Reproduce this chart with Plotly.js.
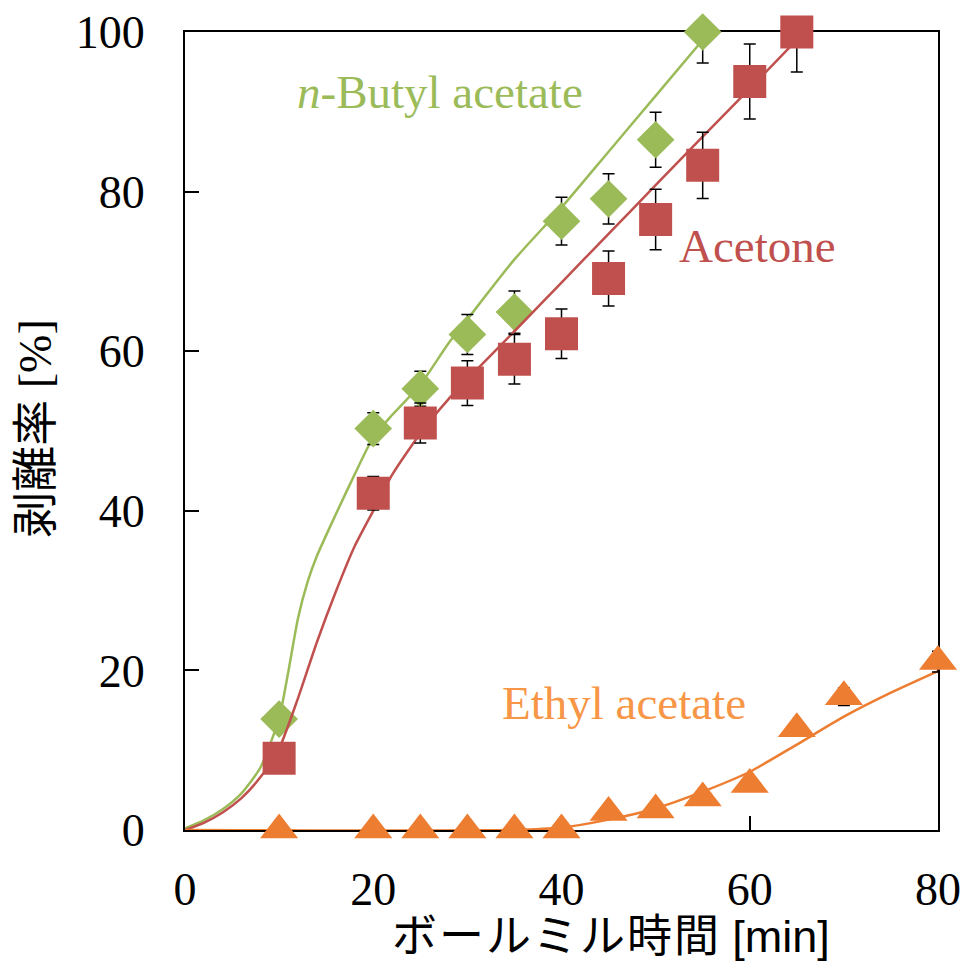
<!DOCTYPE html>
<html><head><meta charset="utf-8">
<script src="https://cdn.plot.ly/plotly-3.0.1.min.js"></script>
<style>html,body{margin:0;padding:0;background:#fff}#chart{width:964px;height:963px}</style>
</head><body><div id="chart"></div>
<script>
// measured data
const butylX = [10, 20, 25, 30, 35, 40, 45, 50, 55];
const butylY = [13.9, 50.3, 55.3, 62.1, 64.9, 76.3, 79.1, 86.5, 100];
const butylErr = [0, 2.0, 2.2, 2.5, 2.65, 3.0, 3.15, 3.45, 3.9];

const acetoneX = [10, 20, 25, 30, 35, 40, 45, 50, 55, 60, 65];
const acetoneY = [9.0, 42.2, 51.0, 56.0, 59.0, 62.2, 69.1, 76.5, 83.3, 93.8, 100];
const acetoneErr = [0, 2.1, 2.5, 2.8, 3.1, 3.1, 3.45, 3.8, 4.15, 4.7, 5.0];

const ethylX = [10, 20, 25, 30, 35, 40, 45, 50, 55, 60, 65, 70, 80];
const ethylY = [0, 0, 0, 0, 0, 0, 2.2, 2.5, 4.0, 5.7, 12.7, 16.7, 21.1];
const ethylErr = [0, 0, 0, 0, 0, 0, 0.3, 0.3, 0.4, 0.5, 0.7, 1.1, 1.3];

// fitted curves
const butylFitX = [0, 2, 4, 6, 8, 10, 11, 12, 13, 14, 16, 18, 20, 22, 25, 28, 30, 35, 40, 45, 50, 55];
const butylFitY = [0.2, 1.2, 2.6, 4.6, 7.8, 14, 20, 26.5, 31, 34.3, 39.5, 44.5, 49.2, 52, 55.8, 61, 64, 71.5, 78, 85, 92, 99];
const acetoneFitX = [0, 2, 4, 6, 8, 10, 12, 14, 16, 18, 20, 22, 25, 28, 30, 35, 40, 45, 50, 55, 60, 65];
const acetoneFitY = [0, 0.9, 2.2, 4, 6.6, 10.2, 16.5, 23.5, 29.8, 35.5, 40, 44.5, 49.7, 54, 56.5, 62.5, 68.6, 74.7, 80.8, 86.9, 92.9, 99];
const ethylFitX = [0, 35, 40, 45, 50, 55, 60, 65, 70, 75, 80];
const ethylFitY = [0, 0, 0.3, 1.3, 2.7, 4.8, 7.3, 10.7, 14.2, 17.2, 19.9];

const xTicks = [0, 20, 40, 60, 80];
const yTicks = [0, 20, 40, 60, 80, 100];

const GREEN = '#9BBB59', RED = '#C0504D', ORANGE = '#ED7D31', ORANGE_TXT = '#F79646';
const SERIF = 'Liberation Serif, Times New Roman, serif';
const CJK = 'Liberation Serif, Noto Sans CJK JP, serif';

function errCfg(arr) {
  return {type: 'data', array: arr, visible: true, color: '#000', thickness: 1.5, width: 6};
}

const traces = [
  {x: butylFitX, y: butylFitY, mode: 'lines', line: {color: GREEN, width: 2.5, shape: 'spline', smoothing: 0.6}, hoverinfo: 'skip'},
  {x: butylX, y: butylY, mode: 'markers', marker: {symbol: 'diamond', size: 29, color: GREEN}, error_y: errCfg(butylErr)},
  {x: acetoneFitX, y: acetoneFitY, mode: 'lines', line: {color: RED, width: 2.5, shape: 'spline', smoothing: 0.6}, hoverinfo: 'skip'},
  {x: acetoneX, y: acetoneY, mode: 'markers', marker: {symbol: 'square', size: 33, color: RED}, error_y: errCfg(acetoneErr)},
  {x: ethylFitX, y: ethylFitY, mode: 'lines', line: {color: ORANGE, width: 2.5, shape: 'spline', smoothing: 0.6}, hoverinfo: 'skip'},
  {x: ethylX, y: ethylY, mode: 'markers', marker: {symbol: 'triangle-up', size: 33, color: ORANGE}, error_y: errCfg(ethylErr)}
].map(t => Object.assign({showlegend: false, cliponaxis: false}, t));

const axisCommon = {
  showline: true, linecolor: '#000', linewidth: 2, mirror: true,
  ticks: 'inside', ticklen: 14, tickwidth: 2, tickcolor: '#000',
  showgrid: false, zeroline: false, layer: 'below traces',
  tickfont: {family: SERIF, size: 46, color: '#000'}
};

const layout = {
  width: 964, height: 963,
  margin: {l: 185, r: 26, t: 32, b: 133},
  paper_bgcolor: '#fff', plot_bgcolor: '#fff',
  xaxis: Object.assign({}, axisCommon, {range: [0, 80], tickvals: xTicks, ticktext: xTicks.map(String), ticklabelstandoff: 18}),
  yaxis: Object.assign({}, axisCommon, {range: [0, 100], tickvals: yTicks, ticktext: yTicks.map(String), ticklabelstandoff: 29}),
  annotations: [
    {xref: 'x', yref: 'y', x: 27.1, y: 92.5, text: '<i>n</i>-Butyl acetate', showarrow: false, xanchor: 'center', yanchor: 'middle', font: {family: SERIF, size: 47, color: GREEN}},
    {xref: 'x', yref: 'y', x: 60.8, y: 73.2, text: 'Acetone', showarrow: false, xanchor: 'center', yanchor: 'middle', font: {family: SERIF, size: 47, color: RED}},
    {xref: 'x', yref: 'y', x: 46.6, y: 15.9, text: 'Ethyl acetate', showarrow: false, xanchor: 'center', yanchor: 'middle', font: {family: SERIF, size: 47, color: ORANGE_TXT}},
    {xref: 'paper', yref: 'paper', x: 0.566, y: -0.134, text: '<span style="letter-spacing:2px">ボールミル時間</span> <span style="font-family:Liberation Sans">[min]</span>', showarrow: false, xanchor: 'center', yanchor: 'middle', font: {family: CJK, size: 45, color: '#000'}},
    {xref: 'paper', yref: 'paper', x: -0.199, y: 0.503, text: '剥離率 [%]', textangle: -90, showarrow: false, xanchor: 'center', yanchor: 'middle', font: {family: CJK, size: 46, color: '#000'}}
  ]
};

Plotly.newPlot('chart', traces, layout, {displayModeBar: false, staticPlot: true});
</script>
</body></html>
